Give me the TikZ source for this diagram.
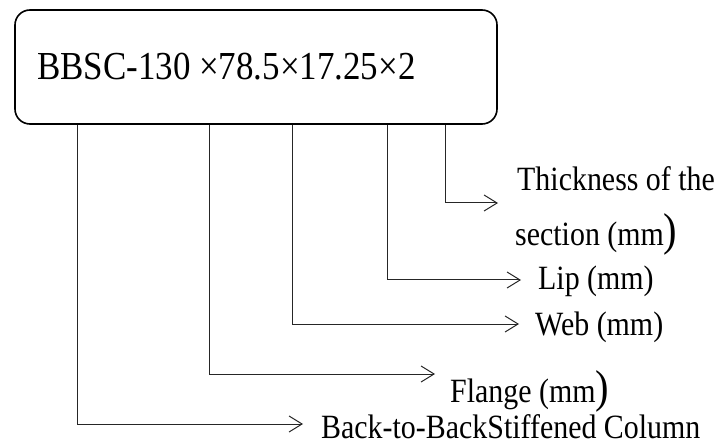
\documentclass[tikz,border=0pt]{standalone}
\usepackage{fontspec}
\setmainfont{Liberation Serif}[FakeStretch=0.88]
\usetikzlibrary{arrows.meta}
\newcommand{\bigpar}{{\fontsize{46}{46}\selectfont)}}
\tikzset{
  lbl/.style={anchor=base west, inner sep=0pt, font=\fontsize{34}{38}\selectfont},
  lead/.style={line width=1pt, draw=black!85}
}
\begin{document}
\begin{tikzpicture}[x=1pt, y=-1pt, >={Straight Barb[length=13pt, width=16pt, line width=1pt]}]
\useasboundingbox (0,0) rectangle (720,446);
\node[draw, line width=1.6pt, rounded corners=15pt, minimum width=482pt, minimum height=114pt] (box) at (256,67) {};
\node[anchor=base west, inner sep=0pt, font=\fontsize{39.7}{44}\selectfont] (code) at (37,80) {BBSC-130 ×78.5×17.25×2};

\node[lbl] (thick) at (517,191) {Thickness of the};
\node[lbl] (thick2) at (515,246) {section (mm\bigpar};
\node[lbl] (lip) at (538,290) {Lip (mm)};
\node[lbl] (web) at (535,335) {Web (mm)};
\node[lbl] (flange) at (450,402) {Flange (mm\bigpar};
\node[lbl] (bbsc) at (321,438) {Back-to-BackStiffened Column};

\coordinate (tThick) at (498,203);
\coordinate (tLip) at (521,280);
\coordinate (tWeb) at (519,324);
\coordinate (tFlange) at (435,374);
\coordinate (tBbsc) at (303,424);

\draw[lead, ->] (box.south -| 445,0) |- (tThick);
\draw[lead, ->] (box.south -| 387,0) |- (tLip);
\draw[lead, ->] (box.south -| 292,0) |- (tWeb);
\draw[lead, ->] (box.south -| 209,0) |- (tFlange);
\draw[lead, ->] (box.south -| 77,0) |- (tBbsc);
\end{tikzpicture}
\end{document}
